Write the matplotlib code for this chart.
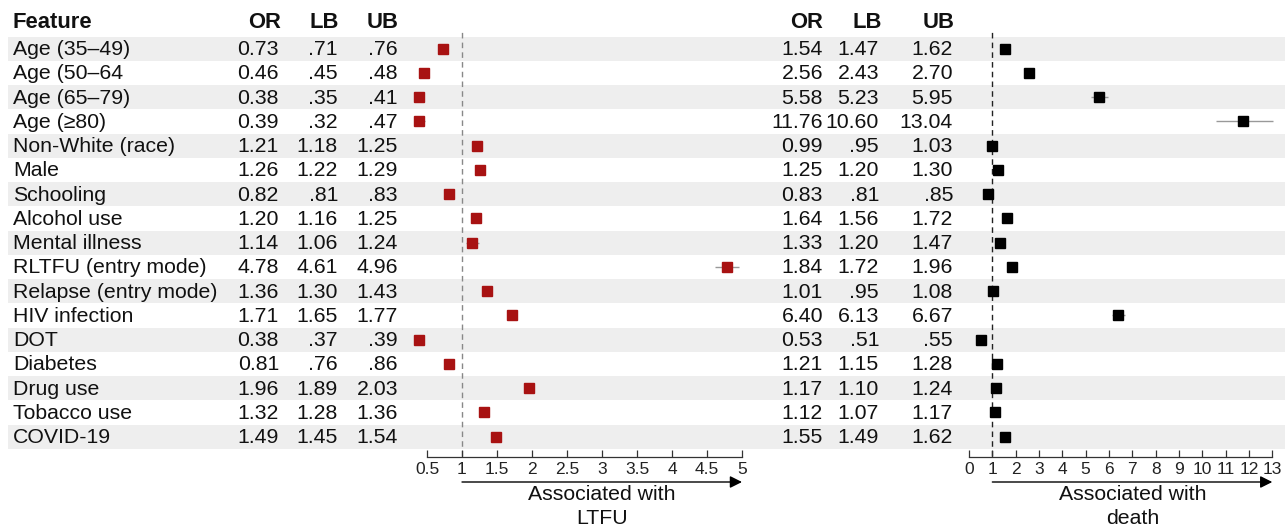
import matplotlib
matplotlib.use("Agg")
import matplotlib.pyplot as plt
from matplotlib.patches import Rectangle
from matplotlib.transforms import blended_transform_factory

plt.rcParams['font.family'] = ['Liberation Sans', 'DejaVu Sans']

features = ["Age (35\u201349)", "Age (50\u201364", "Age (65\u201379)", "Age (\u226580)",
            "Non-White (race)", "Male", "Schooling", "Alcohol use", "Mental illness",
            "RLTFU (entry mode)", "Relapse (entry mode)", "HIV infection", "DOT",
            "Diabetes", "Drug use", "Tobacco use", "COVID-19"]

ltfu_or = [0.73, 0.46, 0.38, 0.39, 1.21, 1.26, 0.82, 1.20, 1.14, 4.78, 1.36, 1.71, 0.38, 0.81, 1.96, 1.32, 1.49]
ltfu_lb = [0.71, 0.45, 0.35, 0.32, 1.18, 1.22, 0.81, 1.16, 1.06, 4.61, 1.30, 1.65, 0.37, 0.76, 1.89, 1.28, 1.45]
ltfu_ub = [0.76, 0.48, 0.41, 0.47, 1.25, 1.29, 0.83, 1.25, 1.24, 4.96, 1.43, 1.77, 0.39, 0.86, 2.03, 1.36, 1.54]

death_or = [1.54, 2.56, 5.58, 11.76, 0.99, 1.25, 0.83, 1.64, 1.33, 1.84, 1.01, 6.40, 0.53, 1.21, 1.17, 1.12, 1.55]
death_lb = [1.47, 2.43, 5.23, 10.60, 0.95, 1.20, 0.81, 1.56, 1.20, 1.72, 0.95, 6.13, 0.51, 1.15, 1.10, 1.07, 1.49]
death_ub = [1.62, 2.70, 5.95, 13.04, 1.03, 1.30, 0.85, 1.72, 1.47, 1.96, 1.08, 6.67, 0.55, 1.28, 1.24, 1.17, 1.62]

ltfu_ticks = [0.5, 1, 1.5, 2, 2.5, 3, 3.5, 4, 4.5, 5]
ltfu_ticklabels = ["0.5", "1", "1.5", "2", "2.5", "3", "3.5", "4", "4.5", "5"]
death_ticks = list(range(0, 14))
death_ticklabels = [str(t) for t in death_ticks]

W, H = 1285, 532
fig = plt.figure(figsize=(W / 100, H / 100), dpi=100)

n = len(features)
top_px, row_h = 36.5, 24.25
bot_px = top_px + n * row_h
ax_b = 1 - bot_px / H
ax_h = (bot_px - top_px) / H

FS = 15.3
HFS = 15.8
TXT = '#111111'


def fmt_or(v):
    return f"{v:.2f}"


def fmt_b(v):
    s = f"{v:.2f}"
    return s[1:] if s.startswith("0.") else s


# background / table axes in pixel x coordinates
bg = fig.add_axes([0, ax_b, 1, ax_h])
bg.set_xlim(0, W)
bg.set_ylim(n - 0.5, -0.5)
bg.axis('off')
for i in range(n):
    if i % 2 == 0:
        bg.add_patch(Rectangle((8, i - 0.5), W - 8, 1, facecolor='#eeeeee', edgecolor='none', zorder=0))

hdr_y = -1.08
bg.text(13, hdr_y, "Feature", fontsize=HFS, fontweight='bold', ha='left', va='center', clip_on=False, color=TXT)
for x, s in [(281, "OR"), (339, "LB"), (399, "UB"), (823, "OR"), (882, "LB"), (954, "UB")]:
    bg.text(x, hdr_y, s, fontsize=HFS, fontweight='bold', ha='right', va='center', clip_on=False, color=TXT)

ty = 0.04
for i in range(n):
    bg.text(13, i + ty, features[i], fontsize=FS, ha='left', va='center', color=TXT)
    bg.text(279, i + ty, fmt_or(ltfu_or[i]), fontsize=FS, ha='right', va='center', color=TXT)
    bg.text(338, i + ty, fmt_b(ltfu_lb[i]), fontsize=FS, ha='right', va='center', color=TXT)
    bg.text(398, i + ty, fmt_b(ltfu_ub[i]), fontsize=FS, ha='right', va='center', color=TXT)
    bg.text(823, i + ty, fmt_or(death_or[i]), fontsize=FS, ha='right', va='center', color=TXT)
    bg.text(879, i + ty, fmt_b(death_lb[i]), fontsize=FS, ha='right', va='center', color=TXT)
    bg.text(953, i + ty, fmt_b(death_ub[i]), fontsize=FS, ha='right', va='center', color=TXT)


def forest(px0, px1, x0, x1, orv, lb, ub, color, vcolor, ticks, ticklabels, label, arrow_end):
    ax = fig.add_axes([px0 / W, ax_b, (px1 - px0) / W, ax_h])
    ax.set_facecolor('none')
    ax.set_xlim(x0, x1)
    ax.set_ylim(n - 0.5, -0.5)
    ys = list(range(n))
    ax.hlines(ys, lb, ub, color='#999999', lw=1.0, zorder=2)
    ax.plot(orv, ys, 's', color=color, markersize=7.5, zorder=3, linestyle='none')
    ax.axvline(1, ymin=-0.018, ymax=1.01, color=vcolor, lw=1.0, linestyle=(0, (4, 3)), clip_on=False, zorder=1)
    for s in ['top', 'right', 'left']:
        ax.spines[s].set_visible(False)
    ax.spines['bottom'].set_position(('outward', 6))
    ax.spines['bottom'].set_bounds(ticks[0], ticks[-1])
    ax.spines['bottom'].set_color('#333333')
    ax.spines['bottom'].set_linewidth(0.9)
    ax.set_yticks([])
    ax.set_xticks(ticks)
    ax.set_xticklabels(ticklabels)
    ax.tick_params(axis='x', direction='in', length=5, width=0.9, pad=3.5, labelsize=12.5, colors='#333333', labelcolor='#222222')
    tr = blended_transform_factory(ax.transData, ax.transAxes)
    ay = (bot_px - 482) / (bot_px - top_px)
    ax.annotate('', xy=(arrow_end, ay), xytext=(1, ay), xycoords=tr, textcoords=tr,
                arrowprops=dict(arrowstyle='-|>', color='black', lw=1.0, mutation_scale=18, shrinkA=0, shrinkB=0),
                annotation_clip=False)
    ly = (bot_px - 485) / (bot_px - top_px)
    ax.text((1 + arrow_end) / 2, ly, label, transform=tr, ha='center', va='top', fontsize=FS,
            linespacing=1.3, color=TXT, clip_on=False)
    return ax


# left: 1 -> 462 px, 70 px per unit
forest(462 + 70 * (0.2 - 1), 462 + 70 * (5.3 - 1), 0.2, 5.3, ltfu_or, ltfu_lb, ltfu_ub,
       '#a81212', '#888888', ltfu_ticks, ltfu_ticklabels, "Associated with\nLTFU", 5)
# right: 0 -> 969 px, 23.33 px per unit
forest(969 + 23.33 * (-0.5), 969 + 23.33 * 13.5, -0.5, 13.5, death_or, death_lb, death_ub,
       '#000000', '#222222', death_ticks, death_ticklabels, "Associated with\ndeath", 13)

fig.savefig("out.png", dpi=100, facecolor='white')
